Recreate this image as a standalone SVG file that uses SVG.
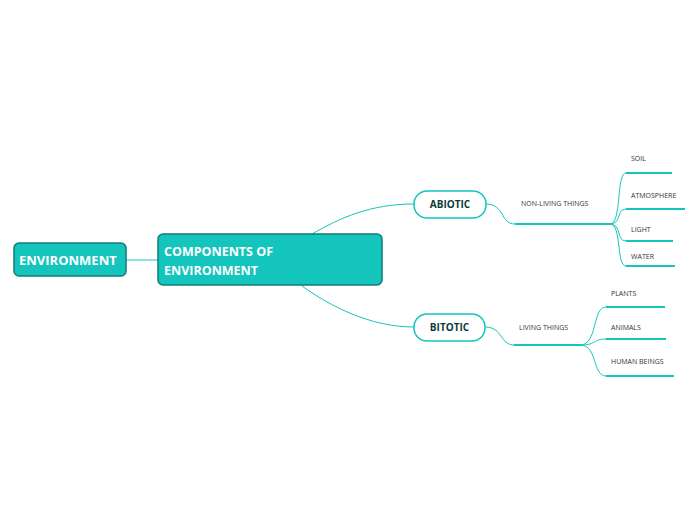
<svg xmlns="http://www.w3.org/2000/svg" width="696" height="520" viewBox="0 0 696 520">
<style>
.c{fill:none;stroke:#13c5bd;stroke-width:1}
.u{fill:none;stroke:#13c5bd;stroke-width:2}
.t{font-family:"Open Sans",sans-serif;font-size:7px;fill:#333}
.w{font-family:"Open Sans",sans-serif;font-weight:bold;fill:#fff}
.b{font-family:"Open Sans",sans-serif;font-weight:bold;font-size:10px;fill:#0b3b36}
</style>
<g id="connectors">
<path class="c" d="M126 260H158"/>
<path class="c" d="M312 234C340 218 370 204 414 204"/>
<path class="c" d="M302 286C330 306 370 327 414 327"/>
<path class="c" d="M486 204C505 204 500 224 515 224"/>
<path class="c" d="M485 327C503 327 500 345 514 345"/>
<path class="c" d="M610 224C622 224 616 173 626 173M610 224C622 224 616 209 626 209M610 224C622 224 616 241 626 241M610 224C622 224 616 266 626 266"/>
<path class="c" d="M580 345C598 345 592 307 606 307M580 345C598 345 592 339 606 339M580 345C598 345 592 376 606 376"/>
</g>
<g id="environment"><rect x="14" y="243" width="112" height="33" rx="5" fill="#13c5bd" stroke="#117c75" stroke-width="1.5"/><text class="w" x="19" y="265" font-size="13">ENVIRONMENT</text></g>
<g id="components"><rect x="158" y="234" width="224" height="51" rx="5" fill="#13c5bd" stroke="#117c75" stroke-width="1.5"/><text class="w" x="164" y="256" font-size="12.5">COMPONENTS OF</text><text class="w" x="164" y="275" font-size="12.5">ENVIRONMENT</text></g>
<g id="abiotic"><rect x="414" y="191" width="72" height="27" rx="13" fill="#fff" stroke="#13c5bd" stroke-width="1.5"/><text class="b" x="450" y="208" text-anchor="middle">ABIOTIC</text></g>
<g id="bitotic"><rect x="414" y="314" width="71" height="27" rx="13" fill="#fff" stroke="#13c5bd" stroke-width="1.5"/><text class="b" x="449.5" y="331" text-anchor="middle">BITOTIC</text></g>
<g id="nonliving"><path class="u" d="M515 224H610"/><text class="t" x="521" y="206">NON-LIVING THINGS</text></g>
<g id="soil"><path class="u" d="M626 173H672"/><text class="t" x="631" y="161">SOIL</text></g>
<g id="atmosphere"><path class="u" d="M626 209H685"/><text class="t" x="631" y="198">ATMOSPHERE</text></g>
<g id="light"><path class="u" d="M626 241H673"/><text class="t" x="631" y="232">LIGHT</text></g>
<g id="water"><path class="u" d="M626 266H675"/><text class="t" x="631" y="259">WATER</text></g>
<g id="living"><path class="u" d="M514 345H580"/><text class="t" x="519" y="330">LIVING THINGS</text></g>
<g id="plants"><path class="u" d="M606 307H665"/><text class="t" x="611" y="296">PLANTS</text></g>
<g id="animals"><path class="u" d="M606 339H666"/><text class="t" x="611" y="330">ANIMALS</text></g>
<g id="human"><path class="u" d="M606 376H674"/><text class="t" x="611" y="364">HUMAN BEINGS</text></g>
</svg>
